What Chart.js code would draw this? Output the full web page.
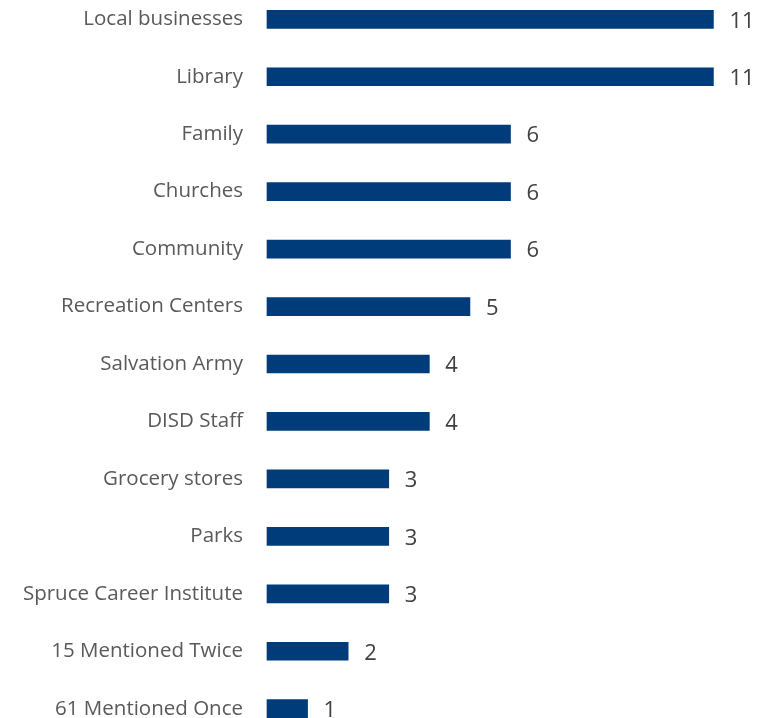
<!DOCTYPE html>
<html>
<head>
<meta charset="utf-8">
<script src="https://cdn.jsdelivr.net/npm/chart.js@4"></script>
<style>
  html, body { margin: 0; padding: 0; background: #fff; overflow: hidden; }
  #wrap { width: 768px; height: 762px; position: relative; margin-top: -17px; }
</style>
</head>
<body>
<div id="wrap"><canvas id="barChart"></canvas></div>
<script>
var categories = ['Local businesses', 'Library', 'Family', 'Churches', 'Community',
    'Recreation Centers', 'Salvation Army', 'DISD Staff', 'Grocery stores', 'Parks',
    'Spruce Career Institute', '15 Mentioned Twice', '61 Mentioned Once'];
var counts = [11, 11, 6, 6, 6, 5, 4, 4, 3, 3, 3, 2, 1];

// value labels at the end of each bar
var valueLabels = {
    id: 'valueLabels',
    afterDatasetsDraw: function (chart) {
        var ctx = chart.ctx;
        var meta = chart.getDatasetMeta(0);
        ctx.save();
        ctx.font = '22px "Open Sans", sans-serif';
        ctx.fillStyle = '#404040';
        ctx.textAlign = 'left';
        ctx.textBaseline = 'middle';
        meta.data.forEach(function (bar, i) {
            ctx.fillText(counts[i], bar.x + 16, bar.y + 2);
        });
        ctx.restore();
    }
};

var ctx = document.getElementById('barChart').getContext('2d');
var myChart = new Chart(ctx, {
    type: 'bar',
    data: {
        labels: categories,
        datasets: [{
            data: counts,
            backgroundColor: '#003b7a',
            barThickness: 18,
            clip: false
        }]
    },
    options: {
        indexAxis: 'y',
        responsive: true,
        maintainAspectRatio: false,
        animation: false,
        layout: {
            padding: { left: 0, right: 14, top: 4, bottom: 10 }
        },
        scales: {
            x: {
                display: false,
                min: 0,
                max: 12
            },
            y: {
                offset: false,
                grid: { display: false, drawTicks: false },
                border: { display: false },
                ticks: {
                    color: '#595959',
                    padding: 24,
                    font: { family: '"Open Sans", sans-serif', size: 20.5 }
                },
                afterFit: function (scale) { scale.width = 267; }
            }
        },
        plugins: {
            legend: { display: false },
            tooltip: { enabled: false }
        }
    },
    plugins: [valueLabels]
});
</script>
</body>
</html>
